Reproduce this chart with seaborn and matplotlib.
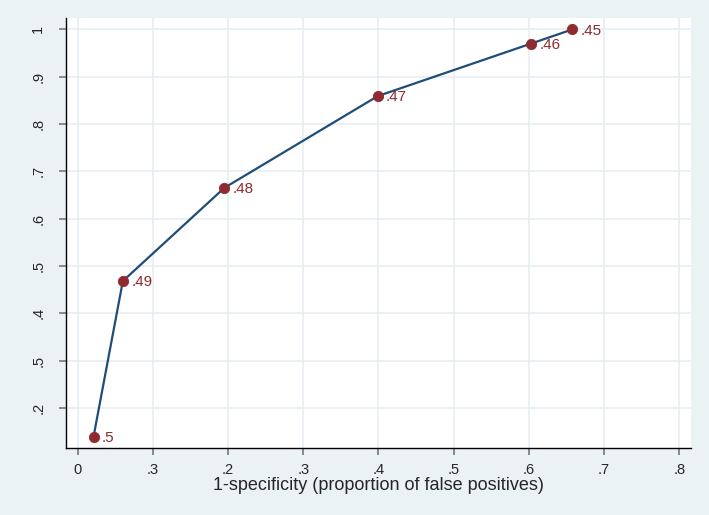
import pandas as pd
import matplotlib
matplotlib.use('Agg')
from matplotlib import pyplot as plt
import seaborn as sns

# Values
fpr = [0.021, 0.060, 0.195, 0.399, 0.603, 0.658]
sens = [0.139, 0.468, 0.665, 0.859, 0.970, 1.000]
cutoffs = ['.5', '.49', '.48', '.47', '.46', '.45']
x_ticks = [0, 0.1, 0.2, 0.3, 0.4, 0.5, 0.6, 0.7, 0.8]
x_tick_labels = ['0', '.3', '.2', '.3', '.4', '.5', '.6', '.7', '.8']
y_ticks = [0.2, 0.3, 0.4, 0.5, 0.6, 0.7, 0.8, 0.9, 1.0]
y_tick_labels = ['.2', '.5', '.4', '.5', '.6', '.7', '.8', '.9', '1']

df = pd.DataFrame({'fpr': fpr, 'sens': sens, 'cutoff': cutoffs})

sns.set_style('white')
plt.rcParams['font.family'] = ['Liberation Sans', 'DejaVu Sans']

bg = '#eaf2f3'
line_col = '#1f4d78'
dot_col = '#8f2a30'

fig = plt.figure(figsize=(7.09, 5.15), dpi=100, facecolor=bg)
ax = fig.add_axes([0.0931, 0.130, 0.8815, 0.835])
ax.set_facecolor('white')

sns.lineplot(data=df, x='fpr', y='sens', color=line_col, linewidth=1.6, ax=ax, sort=False, zorder=2)
sns.scatterplot(data=df, x='fpr', y='sens', color=dot_col, s=55, edgecolor=dot_col, ax=ax, zorder=3)

# cutoff labels next to each point
for _, r in df.iterrows():
    ax.annotate(r['cutoff'], (r['fpr'], r['sens']), xytext=(6, -1), textcoords='offset points',
                color=dot_col, fontsize=11, va='center', ha='left')

ax.set_xlim(-0.0156, 0.8156)
ax.set_ylim(0.115, 1.024)
ax.set_xticks(x_ticks)
ax.set_xticklabels(x_tick_labels)
ax.set_yticks(y_ticks)
ax.set_yticklabels(y_tick_labels, rotation=90, va='center')

ax.grid(True, color='#e6eef1', linewidth=1.2)
ax.set_axisbelow(True)
for s in ['top', 'right']:
    ax.spines[s].set_visible(False)
for s in ['left', 'bottom']:
    ax.spines[s].set_color('black')
    ax.spines[s].set_linewidth(1.0)

ax.tick_params(axis='both', which='major', direction='out', length=5, width=1.2,
               color='#777777', labelsize=10.5, bottom=True, left=True)
ax.tick_params(axis='x', pad=6)
ax.tick_params(axis='y', pad=10)

ax.set_xlabel('1-specificity (proportion of false positives)', fontsize=13, labelpad=0)
ax.set_ylabel('')

fig.savefig('out.png', dpi=100, facecolor=bg)
